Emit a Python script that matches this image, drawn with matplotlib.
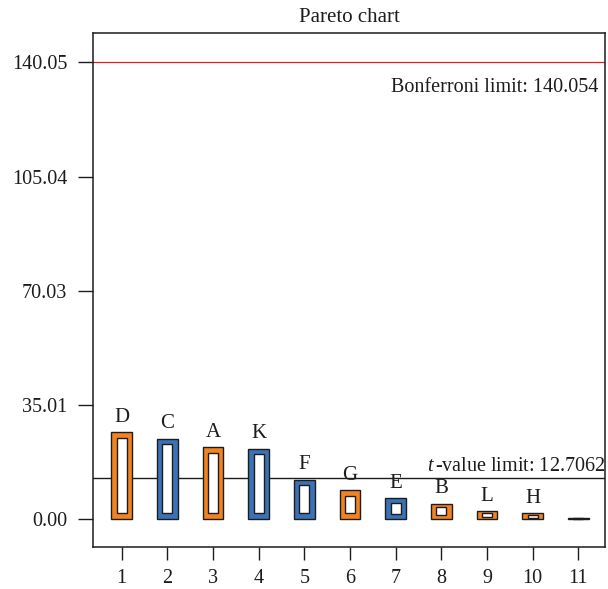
import matplotlib
matplotlib.use("Agg")
import matplotlib.pyplot as plt
from numpy import *

plt.rcParams['font.family'] = ['Liberation Serif', 'DejaVu Serif']
plt.rcParams['mathtext.fontset'] = 'custom'
plt.rcParams['mathtext.rm'] = 'Liberation Serif'
plt.rcParams['mathtext.it'] = 'Liberation Serif:italic'

# data
ranks = [1, 2, 3, 4, 5, 6, 7, 8, 9, 10, 11]
factors = ["D", "C", "A", "K", "F", "G", "E", "B", "L", "H", ""]
effects = [26.6, 24.6, 22.1, 21.6, 12.1, 8.8, 6.4, 4.7, 2.3, 1.7, 0.25]
signs = ["+", "-", "+", "-", "-", "+", "-", "+", "+", "+", "+"]
yticks = [0.00, 35.01, 70.03, 105.04, 140.05]
t_limit = 12.7062
bonferroni = 140.054

orange = "#F38320"
blue = "#3B72B5"
dark = "#1c1c1c"

fig = plt.figure(figsize=(6.08, 5.89), dpi=100)
ax = fig.add_axes([93/608, 42/589, 512/608, 514/589])

cols = [orange if s == "+" else blue for s in signs]
w = 0.45
ax.bar(ranks, effects, width=w, color=cols, edgecolor=dark, linewidth=1.0, zorder=3)

# white inner rectangle, inset shrinks for short bars
h = array(effects)
inset = minimum(1.75, 0.25 * h)
ax.bar(ranks, h - 2*inset, bottom=inset, width=w - 0.23, color="white",
       edgecolor=dark, linewidth=1.0, zorder=4)

for r, v, lab in zip(ranks, effects, factors):
    ax.annotate(lab, (r, v), xytext=(0, 7.5), textcoords="offset points",
                ha="center", va="baseline", fontsize=15, color=dark)

# limit lines
ax.axhline(bonferroni, color="#E0201B", lw=0.9, zorder=2)
ax.annotate(f"Bonferroni limit: {bonferroni:.3f}", xy=(1.0, bonferroni),
            xycoords=("axes fraction", "data"), xytext=(-5, -21),
            textcoords="offset points", ha="right", va="baseline",
            fontsize=14.5, color=dark)
ax.axhline(t_limit, color=dark, lw=1.0, zorder=2)
ax.annotate(f"$t\\,$-value limit: {t_limit:.4f}", xy=(1.0, t_limit),
            xycoords=("axes fraction", "data"), xytext=(0, 4.5),
            textcoords="offset points", ha="right", va="baseline",
            fontsize=14.5, color=dark)

ax.set_xlim(0.37, 11.585)
ax.set_ylim(-8.6, 149.1)
ax.set_xticks(ranks)
ax.set_yticks(yticks)
ax.set_yticklabels([f"{t:.2f}" for t in yticks])
ax.tick_params(axis="x", length=9.5, width=1.0, pad=6.5, labelsize=14.5, colors=dark)
ax.tick_params(axis="y", length=10.5, width=1.0, pad=8, labelsize=14.5, colors=dark)
for s in ax.spines.values():
    s.set_linewidth(1.1)
    s.set_color(dark)

ax.set_title("Pareto chart", fontsize=15, pad=7.8, color=dark)

fig.savefig("out.png", dpi=100)
